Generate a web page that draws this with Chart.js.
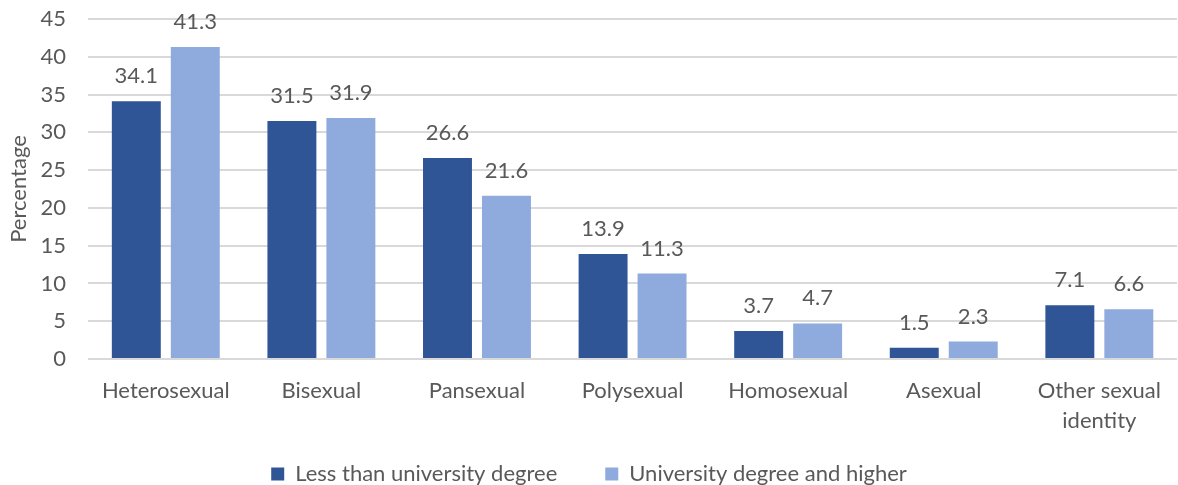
<!DOCTYPE html>
<html><head><meta charset="utf-8">
<script src="https://cdn.jsdelivr.net/npm/chart.js@4"></script>
<style>html,body{margin:0;padding:0;background:#fff}#w{width:1178px;height:485px}</style>
</head><body><div id="w"><canvas id="c"></canvas></div>
<script>
const categories = ['Heterosexual','Bisexual','Pansexual','Polysexual','Homosexual','Asexual',['Other sexual','identity']];
const lessThanUniversity = [34.1,31.5,26.6,13.9,3.7,1.5,7.1];
const universityAndHigher = [41.3,31.9,21.6,11.3,4.7,2.3,6.6];
const yTicks = [0,5,10,15,20,25,30,35,40,45];
const seriesNames = ['Less than university degree','University degree and higher'];

const FONT = 'Lato, "Open Sans", sans-serif';
const TXT = '#595959';
const FS = 22;

const labelPlugin = {
  id:'barLabels',
  afterDatasetsDraw(chart){
    const ctx = chart.ctx;
    ctx.save();
    ctx.font = FS + 'px ' + FONT;
    ctx.fillStyle = TXT;
    ctx.textAlign = 'center';
    ctx.textBaseline = 'alphabetic';
    chart.data.datasets.forEach((ds,i)=>{
      chart.getDatasetMeta(i).data.forEach((bar,j)=>{
        ctx.fillText(ds.data[j].toFixed(1), bar.x, bar.y - 18);
      });
    });
    ctx.restore();
  }
};

const legendFitPlugin = {
  id:'legendFit',
  afterInit(chart){
    const lg = chart.legend;
    if(!lg) return;
    const orig = lg.fit.bind(lg);
    lg.fit = function(){ orig(); this.height = 70; };
  }
};

new Chart(document.getElementById('c'),{
  type:'bar',
  data:{
    labels:categories,
    datasets:[
      {label:seriesNames[0],data:lessThanUniversity,backgroundColor:'#2F5597',borderWidth:0},
      {label:seriesNames[1],data:universityAndHigher,backgroundColor:'#8FAADC',borderWidth:0}
    ]
  },
  options:{
    responsive:true,maintainAspectRatio:false,animation:false,
    layout:{padding:{top:19,right:0,left:0,bottom:0}},
    datasets:{bar:{categoryPercentage:0.758,barPercentage:0.83}},
    plugins:{
      legend:{position:'bottom',labels:{boxWidth:13,boxHeight:13,padding:48,color:TXT,font:{family:FONT,size:FS}}},
      tooltip:{enabled:false}
    },
    scales:{
      x:{grid:{display:false,drawTicks:false},border:{display:false},
         afterFit(s){s.height = 56; s._computeLabelArea = function(){ return undefined; };},
         ticks:{color:TXT,font:{family:FONT,size:FS,lineHeight:1.36},padding:17,maxRotation:0}},
      y:{min:0,max:45,
         afterBuildTicks(s){s.ticks = yTicks.map(v=>({value:v}));},
         afterFit(s){s.width = 88; s.paddingTop = 0; s.paddingBottom = 0;},
         grid:{color:'#D9D9D9',lineWidth:2,drawTicks:false},border:{display:false},
         ticks:{color:TXT,font:{family:FONT,size:FS},padding:22},
         title:{display:true,text:'Percentage',color:TXT,font:{family:FONT,size:FS},padding:{top:6,bottom:4}}}
    }
  },
  plugins:[labelPlugin, legendFitPlugin]
});
</script></body></html>
